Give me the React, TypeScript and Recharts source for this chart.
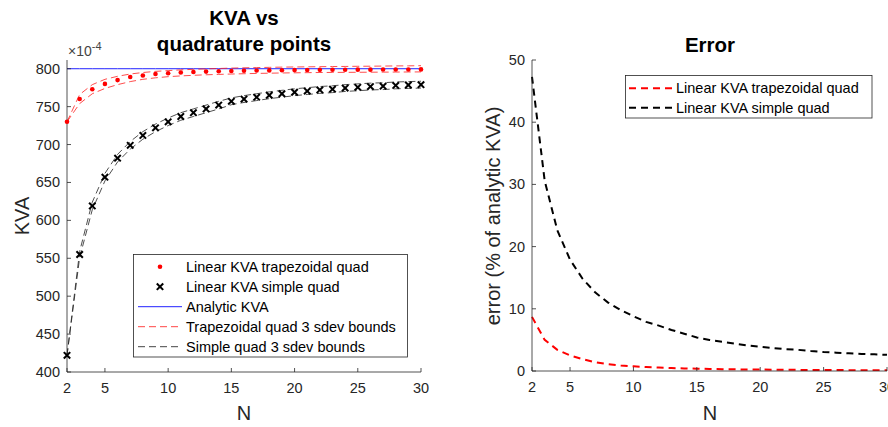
import React from 'react';
import { ComposedChart, Line, XAxis, YAxis, Legend } from 'recharts';

// N = number of quadrature points
const nValues = [2, 3, 4, 5, 6, 7, 8, 9, 10, 11, 12, 13, 14, 15, 16, 17, 18, 19, 20, 21, 22, 23, 24, 25, 26, 27, 28, 29, 30];

// KVA (x 10^-4)
const trapKva = [730, 760, 773, 780, 785, 789, 791, 793, 794, 795, 795.6, 796.2, 796.6, 797, 797.4, 797.6, 797.8, 798, 798.2, 798.3, 798.5, 798.6, 798.7, 798.8, 798.8, 798.9, 799, 799, 799.1];
const trapUpper = [730, 766, 779, 786, 790, 793, 795, 796.5, 797.5, 798.5, 799.2, 799.8, 800.3, 800.8, 801.2, 801.5, 801.8, 802.1, 802.3, 802.5, 802.7, 802.9, 803, 803.2, 803.3, 803.5, 803.7, 803.8, 804];
const trapLower = [730, 754, 767, 774, 779, 783, 786, 788, 789.5, 790.5, 791.3, 792, 792.5, 793, 793.4, 793.8, 794.1, 794.4, 794.6, 794.8, 795, 795.1, 795.2, 795.3, 795.4, 795.5, 795.6, 795.7, 795.8];
const simpleKva = [422, 555, 619, 657, 682, 699, 712, 722, 730, 737, 742, 747, 752, 757, 760, 762.5, 765, 767, 769, 770.5, 772, 773, 774.5, 775.5, 776.5, 777, 778, 778.5, 779];
const simpleUpper = [422, 559, 624, 662, 687, 704, 717, 727, 735, 742, 747, 752, 757, 761.5, 764.5, 767, 769.5, 771.5, 773.5, 775, 776.5, 777.5, 779, 780, 781, 781.5, 782.5, 783, 783.5];
const simpleLower = [422, 551, 614, 652, 677, 694, 707, 717, 725, 732, 737, 742, 747, 752.5, 755.5, 758, 760.5, 762.5, 764.5, 766, 767.5, 768.5, 770, 771, 772, 772.5, 773.5, 774, 774.5];
const analyticKva = 800;

// error (% of analytic KVA)
const trapError = [8.7, 5.0, 3.4, 2.5, 1.9, 1.4, 1.1, 0.9, 0.75, 0.63, 0.55, 0.48, 0.42, 0.37, 0.33, 0.3, 0.27, 0.25, 0.23, 0.21, 0.19, 0.18, 0.17, 0.16, 0.15, 0.14, 0.13, 0.12, 0.11];
const simpleError = [47.3, 30.6, 22.6, 17.9, 14.8, 12.6, 11.0, 9.8, 8.8, 7.9, 7.3, 6.6, 6.0, 5.4, 5.0, 4.7, 4.4, 4.1, 3.9, 3.7, 3.5, 3.4, 3.2, 3.05, 2.95, 2.85, 2.75, 2.68, 2.6];

const nTicks = [2, 5, 10, 15, 20, 25, 30];
const kvaTicks = [400, 450, 500, 550, 600, 650, 700, 750, 800];
const errorTicks = [0, 10, 20, 30, 40, 50];

const kvaLegendLabels = [
  'Linear KVA trapezoidal quad',
  'Linear KVA simple quad',
  'Analytic KVA',
  'Trapezoidal quad 3 sdev bounds',
  'Simple quad 3 sdev bounds',
];
const errorLegendLabels = ['Linear KVA trapezoidal quad', 'Linear KVA simple quad'];

const kvaRows = nValues.map((n, i) => ({
  n,
  trap: trapKva[i],
  trapHi: trapUpper[i],
  trapLo: trapLower[i],
  simple: simpleKva[i],
  simpleHi: simpleUpper[i],
  simpleLo: simpleLower[i],
  analytic: analyticKva,
}));

const errorRows = nValues.map((n, i) => ({ n, trapErr: trapError[i], simpleErr: simpleError[i] }));

const FONT = '"Liberation Sans", Arial, Helvetica, sans-serif';
const AX = '#262626';
const TICK_LEN = 4;

// matlab style ticks: pointing inwards
const BottomTick = (p: any) => (
  <g>
    <line x1={p.x} y1={p.y} x2={p.x} y2={p.y - TICK_LEN} stroke={AX} strokeWidth={0.8} />
    <text x={p.x} y={p.y + 21} textAnchor="middle" fontSize={14.5} fill={AX} fontFamily={FONT}>
      {p.payload.value}
    </text>
  </g>
);
const TopTick = (p: any) => (
  <line x1={p.x} y1={p.y} x2={p.x} y2={p.y + TICK_LEN} stroke={AX} strokeWidth={0.8} />
);
const LeftTick = (p: any) => (
  <g>
    <line x1={p.x} y1={p.y} x2={p.x + TICK_LEN} y2={p.y} stroke={AX} strokeWidth={0.8} />
    <text x={p.x - 7} y={p.y + 5} textAnchor="end" fontSize={14.5} fill={AX} fontFamily={FONT}>
      {p.payload.value}
    </text>
  </g>
);
const RightTick = (p: any) => (
  <line x1={p.x} y1={p.y} x2={p.x - TICK_LEN} y2={p.y} stroke={AX} strokeWidth={0.8} />
);

const XMark = ({ cx, cy }: { cx: number; cy: number }) => (
  <g stroke="#000" strokeWidth={2}>
    <line x1={cx - 3.2} y1={cy - 3.2} x2={cx + 3.2} y2={cy + 3.2} />
    <line x1={cx - 3.2} y1={cy + 3.2} x2={cx + 3.2} y2={cy - 3.2} />
  </g>
);

const renderRedDot = (p: any) => <circle key={`r${p.index}`} cx={p.cx} cy={p.cy} r={2.3} fill="#ff0000" />;
const renderX = (p: any) => <XMark key={`x${p.index}`} cx={p.cx} cy={p.cy} />;

const KvaLegend = () => {
  const rowY = (i: number) => 12.7 + 20 * i;
  return (
    <svg width={276} height={104} style={{ display: 'block' }}>
      <rect x={0.5} y={0.5} width={274} height={102.5} fill="#fff" stroke={AX} strokeWidth={0.8} />
      <circle cx={27} cy={rowY(0)} r={2.3} fill="#ff0000" />
      <XMark cx={27} cy={rowY(1)} />
      <line x1={5} x2={49} y1={rowY(2)} y2={rowY(2)} stroke="#2222ff" strokeWidth={1} />
      <line x1={5} x2={49} y1={rowY(3)} y2={rowY(3)} stroke="#ff4444" strokeWidth={1} strokeDasharray="7 4" />
      <line x1={5} x2={49} y1={rowY(4)} y2={rowY(4)} stroke="#444" strokeWidth={1} strokeDasharray="7 4" />
      {kvaLegendLabels.map((t, i) => (
        <text key={t} x={53} y={rowY(i) + 5} fontSize={14.5} fill="#000" fontFamily={FONT}>
          {t}
        </text>
      ))}
    </svg>
  );
};

const ErrorLegend = () => {
  const rowY = (i: number) => 13.3 + 19.4 * i;
  const colors = ['#ff0000', '#000'];
  return (
    <svg width={248} height={44} style={{ display: 'block' }}>
      <rect x={0.5} y={0.5} width={246.5} height={42.5} fill="#fff" stroke={AX} strokeWidth={0.8} />
      {errorLegendLabels.map((t, i) => (
        <g key={t}>
          <line x1={4} x2={48} y1={rowY(i)} y2={rowY(i)} stroke={colors[i]} strokeWidth={2} strokeDasharray="7 5" />
          <text x={51} y={rowY(i) + 5} fontSize={14.5} fill="#000" fontFamily={FONT}>
            {t}
          </text>
        </g>
      ))}
    </svg>
  );
};

export default function App() {
  return (
    <div style={{ position: 'absolute', left: 0, top: 0, width: 888, height: 427, background: '#fff', overflow: 'hidden' }}>
      {/* left: KVA vs quadrature points */}
      <div style={{ position: 'absolute', left: 0, top: 0 }}>
        <ComposedChart width={440} height={427} data={kvaRows} margin={{ top: 60, right: 19, bottom: 25, left: 27 }}>
          <XAxis dataKey="n" type="number" domain={[2, 30]} ticks={nTicks} interval={0} height={30}
            tickSize={0} tickMargin={0} tickLine={false} tick={BottomTick} axisLine={{ stroke: AX, strokeWidth: 0.8 }} />
          <XAxis xAxisId="top" orientation="top" dataKey="n" type="number" domain={[2, 30]} ticks={nTicks} interval={0} height={0}
            tickSize={0} tickMargin={0} tickLine={false} tick={TopTick} axisLine={{ stroke: AX, strokeWidth: 0.8 }} />
          <YAxis type="number" domain={[400, 811.5]} allowDataOverflow ticks={kvaTicks} interval={0} width={40}
            tickSize={0} tickMargin={0} tickLine={false} tick={LeftTick} axisLine={{ stroke: AX, strokeWidth: 0.8 }} />
          <YAxis yAxisId="right" orientation="right" type="number" domain={[400, 811.5]} allowDataOverflow ticks={kvaTicks} interval={0} width={0}
            tickSize={0} tickMargin={0} tickLine={false} tick={RightTick} axisLine={{ stroke: AX, strokeWidth: 0.8 }} />
          <Line dataKey="trap" stroke="none" dot={renderRedDot} isAnimationActive={false} />
          <Line dataKey="simple" stroke="none" dot={renderX} isAnimationActive={false} />
          <Line dataKey="analytic" stroke="#2222ff" strokeWidth={1} dot={false} isAnimationActive={false} />
          <Line dataKey="trapHi" stroke="#ff2020" strokeWidth={0.8} strokeDasharray="7 4" dot={false} isAnimationActive={false} />
          <Line dataKey="trapLo" stroke="#ff2020" strokeWidth={0.8} strokeDasharray="7 4" dot={false} isAnimationActive={false} />
          <Line dataKey="simpleHi" stroke="#222" strokeWidth={0.8} strokeDasharray="7 4" dot={false} isAnimationActive={false} />
          <Line dataKey="simpleLo" stroke="#222" strokeWidth={0.8} strokeDasharray="7 4" dot={false} isAnimationActive={false} />
          <Legend content={KvaLegend} layout="horizontal" verticalAlign="middle" align="center"
            wrapperStyle={{ left: 133, top: 254, width: 276, height: 104 }} />
        </ComposedChart>
      </div>

      {/* right: Error */}
      <div style={{ position: 'absolute', left: 444, top: 0 }}>
        <ComposedChart width={444} height={427} data={errorRows} margin={{ top: 60, right: 1, bottom: 26, left: 48 }}>
          <XAxis dataKey="n" type="number" domain={[2, 30]} ticks={nTicks} interval={0} height={30}
            tickSize={0} tickMargin={0} tickLine={false} tick={BottomTick} axisLine={{ stroke: AX, strokeWidth: 0.8 }} />
          <XAxis xAxisId="top" orientation="top" dataKey="n" type="number" domain={[2, 30]} ticks={nTicks} interval={0} height={0}
            tickSize={0} tickMargin={0} tickLine={false} tick={TopTick} axisLine={{ stroke: AX, strokeWidth: 0.8 }} />
          <YAxis type="number" domain={[0, 50]} allowDataOverflow ticks={errorTicks} interval={0} width={40}
            tickSize={0} tickMargin={0} tickLine={false} tick={LeftTick} axisLine={{ stroke: AX, strokeWidth: 0.8 }} />
          <YAxis yAxisId="right" orientation="right" type="number" domain={[0, 50]} allowDataOverflow ticks={errorTicks} interval={0} width={0}
            tickSize={0} tickMargin={0} tickLine={false} tick={RightTick} axisLine={{ stroke: AX, strokeWidth: 0.8 }} />
          <Line dataKey="trapErr" stroke="#ff0000" strokeWidth={2} strokeDasharray="7 5" dot={false} isAnimationActive={false} />
          <Line dataKey="simpleErr" stroke="#000" strokeWidth={2} strokeDasharray="7 5" dot={false} isAnimationActive={false} />
          <Legend content={ErrorLegend} layout="horizontal" verticalAlign="middle" align="center"
            wrapperStyle={{ left: 181, top: 75, width: 248, height: 44 }} />
        </ComposedChart>
      </div>

      {/* titles and axis labels */}
      <svg width={888} height={427} style={{ position: 'absolute', left: 0, top: 0, pointerEvents: 'none' }} fontFamily={FONT}>
        <text x={244} y={25} textAnchor="middle" fontSize={20.5} fontWeight="bold" fill="#000">KVA vs</text>
        <text x={244} y={51} textAnchor="middle" fontSize={20.5} fontWeight="bold" fill="#000">quadrature points</text>
        <text x={710} y={52} textAnchor="middle" fontSize={20.5} fontWeight="bold" fill="#000">Error</text>
        <text x={68} y={56} fontSize={14} fill="#444">
          ×10<tspan dy={-6} fontSize={11}>-4</tspan>
        </text>
        <text x={244} y={420} textAnchor="middle" fontSize={20} fill={AX}>N</text>
        <text x={710} y={420} textAnchor="middle" fontSize={20} fill={AX}>N</text>
        <text transform="translate(29,216) rotate(-90)" textAnchor="middle" fontSize={20} fill={AX}>KVA</text>
        <text transform="translate(500,216) rotate(-90)" textAnchor="middle" fontSize={20} fill={AX}>error (% of analytic KVA)</text>
      </svg>
    </div>
  );
}
